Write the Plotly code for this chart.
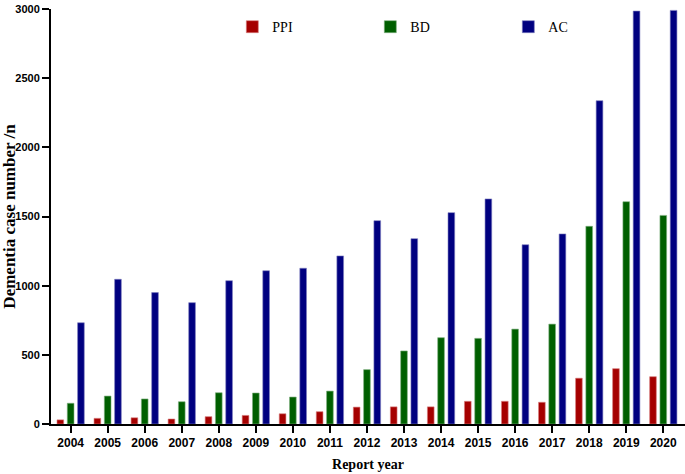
import plotly.graph_objects as go

years = [str(y) for y in range(2004, 2021)]
ppi = [30, 41, 45, 36, 53, 62, 74, 89, 122, 124, 124, 164, 164, 157, 331, 400, 342]
bd = [150, 202, 181, 161, 226, 224, 195, 238, 393, 528, 624, 619, 686, 722, 1429, 1607, 1508]
ac = [732, 1046, 950, 877, 1036, 1108, 1126, 1215, 1470, 1340, 1528, 1627, 1296, 1374, 2337, 2985, 2990]

series = [("PPI", ppi, "#A50000", "#D98080"),
          ("BD", bd, "#005F00", "#80B080"),
          ("AC", ac, "#000080", "#8080C0")]

fig = go.Figure()
for name, vals, col, edge in series:
    fig.add_trace(go.Bar(x=years, y=vals, name=name,
                         marker=dict(color=col, line=dict(color=edge, width=0.6))))

fig.update_layout(
    width=685, height=474,
    margin=dict(l=51, r=0, t=9, b=50),
    plot_bgcolor="white", paper_bgcolor="white",
    barmode="group", bargap=0.166, bargroupgap=0.35,
    showlegend=True,
    legend=dict(orientation="h", x=0.286, y=0.995, xanchor="left", yanchor="top",
                entrywidth=93, entrywidthmode="pixels",
                font=dict(family="Liberation Serif", size=14, color="black"),
                bgcolor="rgba(0,0,0,0)"),
    xaxis=dict(type="category", range=[-0.53, 16.586], automargin=False,
               showline=True, linecolor="black", linewidth=2,
               ticks="outside", ticklen=7, tickwidth=2, tickcolor="black",
               tickfont=dict(family="Liberation Sans", size=12, color="black", weight="bold"),
               title=dict(text="<b>Report year</b>", standoff=10,
                          font=dict(family="Liberation Serif", size=14, color="black")),
               showgrid=False),
    yaxis=dict(range=[0, 3000], tickvals=[0, 500, 1000, 1500, 2000, 2500, 3000],
               automargin=False,
               showline=True, linecolor="black", linewidth=2,
               ticks="outside", ticklen=7, tickwidth=2, tickcolor="black",
               tickfont=dict(family="Liberation Sans", size=11, color="black", weight="bold"),
               title=dict(text="<b>Dementia case number /n</b>", standoff=2,
                          font=dict(family="Liberation Serif", size=17, color="black")),
               showgrid=False, zeroline=False),
)

fig.write_html("out.html", config={"displayModeBar": False},
               post_script="document.body.style.margin='0px';")
